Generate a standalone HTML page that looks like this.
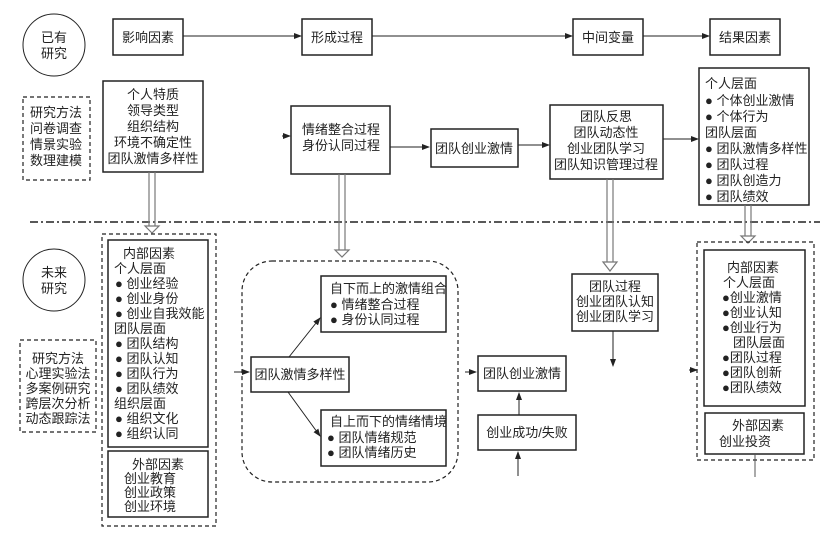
<!DOCTYPE html>
<html><head><meta charset="utf-8"><style>
html,body{margin:0;padding:0;background:#fff}
svg{display:block}
text{font-family:"Liberation Sans","Noto Sans CJK SC",sans-serif;font-size:13px;fill:#222}
.b{fill:#fff;stroke:#222;stroke-width:1.5}
.d{fill:none;stroke:#222;stroke-width:1.2;stroke-dasharray:4,3}
.l{stroke:#222;stroke-width:1;fill:none}
.dl{stroke:#777;stroke-width:1.2;fill:none}
</style></head><body>
<svg width="825" height="537" viewBox="0 0 825 537" xmlns="http://www.w3.org/2000/svg">
<defs><marker id="a" markerWidth="8" markerHeight="6" refX="7" refY="3" orient="auto"><path d="M0,0 L8,3 L0,6 Z" fill="#222"/></marker></defs>

<!-- top row -->
<circle cx="54" cy="45" r="31" class="l" stroke-width="1.3"/>
<text x="54" y="42" text-anchor="middle">已有</text><text x="54" y="58" text-anchor="middle">研究</text>
<rect x="113" y="19" width="70" height="36" class="b"/><text x="148" y="42" text-anchor="middle">影响因素</text>
<rect x="302" y="19" width="70" height="36" class="b"/><text x="337" y="42" text-anchor="middle">形成过程</text>
<rect x="573" y="19" width="70" height="36" class="b"/><text x="608" y="42" text-anchor="middle">中间变量</text>
<rect x="710" y="19" width="70" height="36" class="b"/><text x="745" y="42" text-anchor="middle">结果因素</text>
<line x1="183" y1="36" x2="301" y2="36" class="l" marker-end="url(#a)"/>
<line x1="372" y1="36" x2="572" y2="36" class="l" marker-end="url(#a)"/>
<line x1="643" y1="36" x2="709" y2="36" class="l" marker-end="url(#a)"/>

<!-- row 2 -->
<rect x="23" y="97" width="67" height="83" class="d"/>
<text x="56" y="117" text-anchor="middle">研究方法</text><text x="56" y="133" text-anchor="middle">问卷调查</text><text x="56" y="149" text-anchor="middle">情景实验</text><text x="56" y="165" text-anchor="middle">数理建模</text>
<rect x="103" y="81" width="100" height="91" class="b"/>
<text x="153" y="99" text-anchor="middle">个人特质</text><text x="153" y="115" text-anchor="middle">领导类型</text><text x="153" y="131" text-anchor="middle">组织结构</text><text x="153" y="147" text-anchor="middle">环境不确定性</text><text x="153" y="163" text-anchor="middle">团队激情多样性</text>
<line x1="282" y1="136" x2="290" y2="136" class="l" marker-end="url(#a)"/>
<rect x="291" y="106" width="99" height="68" class="b"/>
<text x="341" y="134" text-anchor="middle">情绪整合过程</text><text x="341" y="150" text-anchor="middle">身份认同过程</text>
<line x1="390" y1="147" x2="429" y2="147" class="l" marker-end="url(#a)"/>
<rect x="431" y="129" width="87" height="38" class="b"/><text x="474" y="153" text-anchor="middle">团队创业激情</text>
<line x1="518" y1="145" x2="549" y2="145" class="l" marker-end="url(#a)"/>
<rect x="550" y="105" width="113" height="74" class="b"/>
<text x="606" y="121" text-anchor="middle">团队反思</text><text x="606" y="137" text-anchor="middle">团队动态性</text><text x="606" y="153" text-anchor="middle">创业团队学习</text><text x="606" y="169" text-anchor="middle">团队知识管理过程</text>
<line x1="663" y1="139" x2="698" y2="139" class="l" marker-end="url(#a)"/>
<rect x="699" y="68" width="110" height="137" class="b"/>
<g font-size="12.5">
<text x="705" y="88">个人层面</text><text x="705" y="105">● 个体创业激情</text><text x="705" y="121">● 个体行为</text><text x="705" y="137">团队层面</text><text x="705" y="153">● 团队激情多样性</text><text x="705" y="169">● 团队过程</text><text x="705" y="185">● 团队创造力</text><text x="705" y="201">● 团队绩效</text>
</g>

<!-- dash-dot separator -->
<line x1="30" y1="222" x2="820" y2="222" stroke="#222" stroke-width="1.5" stroke-dasharray="8,3,2,3"/>

<!-- hollow arrows -->
<g class="dl">
<line x1="149" y1="172" x2="149" y2="226"/><line x1="155" y1="172" x2="155" y2="226"/><path d="M145,226 L152,233 L159,226 Z" fill="#fff"/>
<line x1="339" y1="174" x2="339" y2="250"/><line x1="345" y1="174" x2="345" y2="250"/><path d="M335,250 L342,257 L349,250 Z" fill="#fff"/>
<line x1="607" y1="179" x2="607" y2="262"/><line x1="613" y1="179" x2="613" y2="262"/><path d="M603,262 L610,271 L617,262 Z" fill="#fff"/>
<line x1="745" y1="205" x2="745" y2="236"/><line x1="751" y1="205" x2="751" y2="236"/><path d="M741,236 L748,243 L755,236 Z" fill="#fff"/>
</g>

<!-- bottom -->
<circle cx="54" cy="280" r="31" class="l" stroke-width="1.3"/>
<text x="54" y="277" text-anchor="middle">未来</text><text x="54" y="293" text-anchor="middle">研究</text>
<rect x="20" y="340" width="76" height="92" class="d"/>
<text x="58" y="363" text-anchor="middle">研究方法</text><text x="58" y="378" text-anchor="middle">心理实验法</text><text x="58" y="393" text-anchor="middle">多案例研究</text><text x="58" y="408" text-anchor="middle">跨层次分析</text><text x="58" y="423" text-anchor="middle">动态跟踪法</text>

<rect x="102" y="234" width="114" height="292" class="d"/>
<rect x="108" y="240" width="100" height="207" class="b"/>
<g font-size="12.5">
<text x="123" y="258">内部因素</text><text x="114" y="273">个人层面</text>
<text x="115" y="288">● 创业经验</text><text x="115" y="303">● 创业身份</text><text x="115" y="318">● 创业自我效能</text>
<text x="114" y="333">团队层面</text>
<text x="115" y="348">● 团队结构</text><text x="115" y="363">● 团队认知</text><text x="115" y="378">● 团队行为</text><text x="115" y="393">● 团队绩效</text>
<text x="114" y="408">组织层面</text>
<text x="115" y="423">● 组织文化</text><text x="115" y="438">● 组织认同</text>
</g>
<rect x="108" y="451" width="100" height="66" class="b"/>
<text x="158" y="469" text-anchor="middle">外部因素</text><text x="150" y="483" text-anchor="middle">创业教育</text><text x="150" y="497" text-anchor="middle">创业政策</text><text x="150" y="511" text-anchor="middle">创业环境</text>

<rect x="242" y="261" width="216" height="221" rx="30" class="d"/>
<line x1="234" y1="372" x2="249" y2="372" class="l" marker-end="url(#a)"/>
<rect x="251" y="357" width="98" height="35" class="b"/><text x="300" y="379" text-anchor="middle">团队激情多样性</text>
<line x1="289" y1="357" x2="320" y2="318" class="l" marker-end="url(#a)"/>
<line x1="288" y1="392" x2="320" y2="436" class="l" marker-end="url(#a)"/>
<rect x="321" y="276" width="125" height="56" class="b"/>
<text x="330" y="293">自下而上的激情组合</text><text x="330" y="309">● 情绪整合过程</text><text x="330" y="324">● 身份认同过程</text>
<rect x="321" y="410" width="125" height="56" class="b"/>
<text x="330" y="426">自上而下的情绪情境</text><text x="327" y="442">● 团队情绪规范</text><text x="327" y="457">● 团队情绪历史</text>

<line x1="465" y1="372" x2="476" y2="372" class="l" marker-end="url(#a)"/>
<rect x="478" y="356" width="88" height="35" class="b"/><text x="522" y="378" text-anchor="middle">团队创业激情</text>
<rect x="478" y="415" width="98" height="35" class="b"/><text x="527" y="437" text-anchor="middle">创业成功/失败</text>
<line x1="519" y1="415" x2="519" y2="393" class="l" marker-end="url(#a)"/>
<line x1="518" y1="476" x2="518" y2="452" class="l" marker-end="url(#a)"/>

<rect x="572" y="274" width="86" height="57" class="b"/>
<text x="615" y="291" text-anchor="middle">团队过程</text><text x="615" y="306" text-anchor="middle">创业团队认知</text><text x="615" y="321" text-anchor="middle">创业团队学习</text>
<line x1="613" y1="331" x2="613" y2="366" class="l" marker-end="url(#a)"/>

<line x1="689" y1="370" x2="697" y2="370" class="l" marker-end="url(#a)"/>
<rect x="697" y="242" width="117" height="218" class="d"/>
<rect x="704" y="250" width="101" height="156" class="b"/>
<g font-size="12.5">
<text x="727" y="272">内部因素</text><text x="723" y="287">个人层面</text>
<text x="722" y="302">●创业激情</text><text x="722" y="317">●创业认知</text><text x="722" y="332">●创业行为</text>
<text x="733" y="347">团队层面</text>
<text x="722" y="362">●团队过程</text><text x="722" y="377">●团队创新</text><text x="722" y="392">●团队绩效</text>
</g>
<rect x="705" y="413" width="99" height="41" class="b"/>
<text x="758" y="430" text-anchor="middle">外部因素</text><text x="745" y="446" text-anchor="middle">创业投资</text>
<line x1="755" y1="454" x2="755" y2="477" stroke="#555" stroke-width="1"/>
</svg>
</body></html>
